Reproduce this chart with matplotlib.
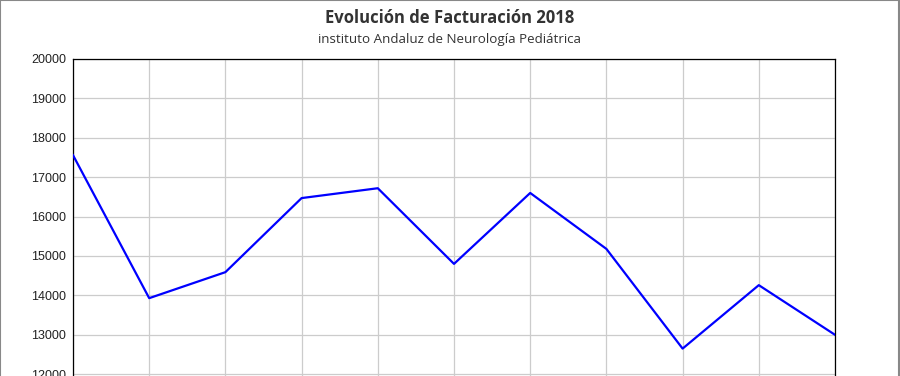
import matplotlib.pyplot as plt
from matplotlib.patches import Rectangle

# monthly billing values
months = ["Ene", "Feb", "Mar", "Abr", "May", "Jun", "Jul", "Ago", "Sep", "Oct", "Nov"]
billing = [17560, 13930, 14590, 16470, 16720, 14800, 16600, 15180, 12650, 14260, 13000]
y_ticks = [12000, 13000, 14000, 15000, 16000, 17000, 18000, 19000, 20000]

fig = plt.figure(figsize=(9, 3.76), dpi=100)

# axes run past the bottom edge of the picture, like the reference crop
ax = fig.add_axes([73 / 900, (376 - 453) / 376, 762 / 900, 394 / 376])

ax.plot(range(len(months)), billing, color="#0000ff", linewidth=1.6, zorder=3)

ax.set_xlim(0, len(months) - 1)
ax.set_ylim(10000, 20000)
ax.set_xticks(range(len(months)))
# month labels sit below the visible part of the picture
ax.set_xticklabels([])
ax.set_yticks(y_ticks)
ax.grid(color="#cccccc", linewidth=0.9)
ax.set_axisbelow(True)

ax.tick_params(axis="both", length=0, pad=5, labelsize=9, labelcolor="#222222")
for lbl in ax.get_yticklabels():
    lbl.set_family("Liberation Sans")

for side in ["left", "top", "right", "bottom"]:
    ax.spines[side].set_color("black")
    ax.spines[side].set_linewidth(0.9)

# titles
fig.text(0.5, 1 - 18 / 376, "Evolución de Facturación 2018", ha="center", va="center",
         fontsize=12, fontweight="bold", family="Open Sans", color="#333333")
fig.text(0.5, 1 - 39 / 376, "instituto Andaluz de Neurología Pediátrica", ha="center", va="center",
         fontsize=9.6, family="Open Sans", color="#333333")

# grey frame around the picture
fig.patches.append(Rectangle((0.0005, -0.1), 0.998, 1.099, transform=fig.transFigure,
                             fill=False, edgecolor="#888888", linewidth=1.5))

fig.savefig("out.png", dpi=100)
plt.close(fig)
